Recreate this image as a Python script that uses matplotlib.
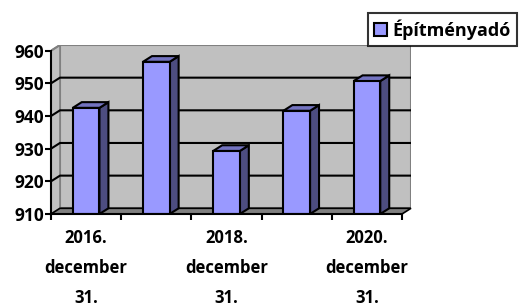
import matplotlib.pyplot as plt
from matplotlib.patches import Polygon, Patch

plt.rcParams["font.family"] = ["Open Sans", "DejaVu Sans"]
plt.rcParams["font.weight"] = "bold"

categories = ["2016.\ndecember\n31.", "2017.\ndecember\n31.", "2018.\ndecember\n31.",
              "2019.\ndecember\n31.", "2020.\ndecember\n31."]
values = [942.5, 956.6, 929.3, 941.6, 950.7]
yticks = [910, 920, 930, 940, 950, 960]
series_name = "Építményadó"

front_col = "#9999FF"
side_col = "#4D4D80"
top_col = "#7373C0"
wall_col = "#C0C0C0"
floor_col = "#808080"

W, H = 520, 306
fig = plt.figure(figsize=(W / 100, H / 100), dpi=100)
ax = fig.add_axes([51 / W, 92 / H, 360 / W, 169 / H])

ymin, ymax = yticks[0], yticks[-1]
n = len(values)
dx = 0.128   # depth offset in category units
dy = 1.75    # depth offset in value units
ax.set_xlim(-0.5, n - 0.5 + dx)
ax.set_ylim(ymin, ymax + dy)

# back wall, left wall, floor
ax.add_patch(Polygon([(-0.5 + dx, ymin + dy), (n - 0.5 + dx, ymin + dy),
                      (n - 0.5 + dx, ymax + dy), (-0.5 + dx, ymax + dy)],
                     closed=True, facecolor=wall_col, edgecolor="#808080", lw=1.5, zorder=0))
ax.add_patch(Polygon([(-0.5, ymin), (-0.5 + dx, ymin + dy), (-0.5 + dx, ymax + dy), (-0.5, ymax)],
                     closed=True, facecolor=wall_col, edgecolor="#808080", lw=1.2, zorder=0.5))
ax.add_patch(Polygon([(-0.5, ymin), (n - 0.5, ymin), (n - 0.5 + dx, ymin + dy), (-0.5 + dx, ymin + dy)],
                     closed=True, facecolor=floor_col, edgecolor="black", lw=1.2, zorder=0.6,
                     clip_on=False))

# gridlines on back and side wall
for v in yticks[1:-1]:
    ax.plot([-0.5, -0.5 + dx, n - 0.5 + dx], [v, v + dy, v + dy], color="black", lw=1.5, zorder=1)
ax.plot([-0.5, -0.5 + dx], [ymax, ymax + dy], color="#808080", lw=1.5, zorder=1)

# bars
bw = 0.38
xs = list(range(n))
ax.bar(xs, [v - ymin for v in values], bottom=ymin, width=bw, color=front_col,
       edgecolor="black", linewidth=1.5, zorder=3)
for x, v in zip(xs, values):
    r, l = x + bw / 2, x - bw / 2
    ax.add_patch(Polygon([(r, ymin), (r + dx, ymin + dy), (r + dx, v + dy), (r, v)],
                         closed=True, facecolor=side_col, edgecolor="black", lw=1.5, zorder=2.9))
    ax.add_patch(Polygon([(l, v), (r, v), (r + dx, v + dy), (l + dx, v + dy)],
                         closed=True, facecolor=top_col, edgecolor="black", lw=1.5, zorder=2.9))

# axes
for s in ["top", "right"]:
    ax.spines[s].set_visible(False)
ax.spines["left"].set_bounds(ymin, ymax)
ax.spines["bottom"].set_bounds(-0.5, n - 0.5)
ax.spines["left"].set_linewidth(1.5)
ax.spines["bottom"].set_linewidth(1.5)
ax.spines["left"].set_zorder(5)
ax.spines["bottom"].set_zorder(5)
ax.set_yticks(yticks)
ax.set_yticklabels([str(t) for t in yticks], fontsize=12.5, fontweight="bold")
ax.tick_params(axis="y", direction="out", length=4, width=1.5, pad=1)
ax.set_xticks([i - 0.5 for i in range(n + 1)])
ax.set_xticklabels([])
ax.tick_params(axis="x", which="major", direction="out", length=4, width=1.5)
ax.set_xticks(xs[::2], minor=True)
ax.set_xticklabels(categories[::2], minor=True, fontsize=12, fontweight="bold",
                   linespacing=1.85)
ax.tick_params(axis="x", which="minor", length=0, pad=11)

fig.legend(handles=[Patch(facecolor=front_col, edgecolor="black", linewidth=1.5, label=series_name)],
           loc="upper right", bbox_to_anchor=(517 / W, 1 - 13 / H), frameon=True, fancybox=False,
           edgecolor="black", prop={"weight": "bold", "size": 13}, handlelength=0.7,
           handleheight=0.7, handletextpad=0.3, borderpad=0.35, borderaxespad=0)
fig.legends[0].get_frame().set_linewidth(1.5)

fig.savefig("out.png", dpi=100)
